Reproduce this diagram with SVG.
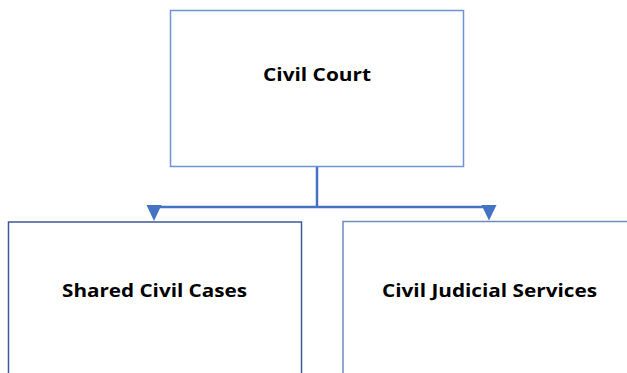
<svg xmlns="http://www.w3.org/2000/svg" width="627" height="373" viewBox="0 0 627 373">
<style>
.box{fill:#fff;stroke-width:1.5}
.lbl{font-family:"Open Sans","Liberation Sans",sans-serif;font-weight:bold;font-size:18px;fill:#000;text-anchor:middle}
.conn{fill:none;stroke:#4472C4;stroke-width:2.5}
.head{fill:#4472C4}
</style>
<g id="civil-court">
<rect class="box" x="170.5" y="10.5" width="293" height="156" stroke="#6F93D3"/>
<text class="lbl" x="317" y="81" textLength="108" lengthAdjust="spacingAndGlyphs">Civil Court</text>
</g>
<g id="shared-civil-cases">
<rect class="box" x="8.5" y="222" width="293" height="160" stroke="#3C5A96"/>
<text class="lbl" x="154.5" y="297" textLength="185" lengthAdjust="spacingAndGlyphs">Shared Civil Cases</text>
</g>
<g id="civil-judicial-services">
<rect class="box" x="343" y="221.5" width="300" height="160" stroke="#6D8CB8"/>
<text class="lbl" x="489.5" y="297" textLength="215" lengthAdjust="spacingAndGlyphs">Civil Judicial Services</text>
</g>
<g id="connectors">
<path class="conn" d="M317,167 V207"/>
<path class="conn" d="M154,207 H489"/>
<polygon class="head" points="146.5,205 161.5,205 154,221"/>
<polygon class="head" points="481.5,205 496.5,205 489,220.5"/>
</g>
</svg>
